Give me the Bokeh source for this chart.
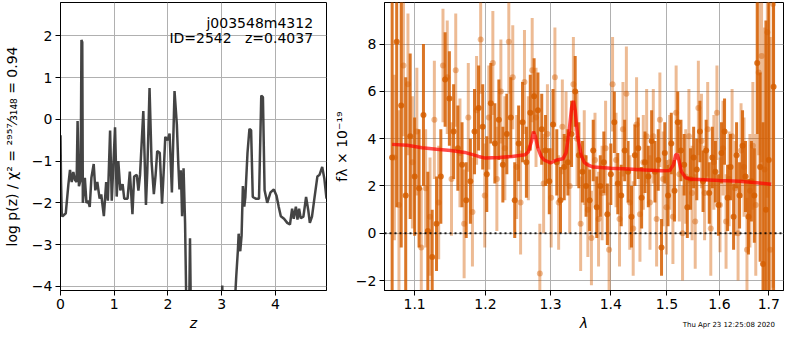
import numpy as np
from bokeh.plotting import figure
from bokeh.models import Range1d, FixedTicker, Label, Span, ColumnDataSource, CustomJSTickFormatter, Div
from bokeh.layouts import row, column
from bokeh.embed import file_html
from bokeh.resources import INLINE

# ---------------- data: left panel, log p(z) ----------------
z_grid = [0.0, 0.01, 0.024, 0.037, 0.098, 0.147, 0.177, 0.208, 0.239, 0.269,
          0.30, 0.318, 0.343, 0.375, 0.39, 0.405, 0.416, 0.453, 0.483, 0.514,
          0.544, 0.575, 0.618, 0.648, 0.685, 0.728, 0.758, 0.807, 0.85, 0.881,
          0.923, 0.954, 1.015, 1.046, 1.076, 1.113, 1.156, 1.186, 1.248, 1.29,
          1.339, 1.37, 1.419, 1.45, 1.48, 1.541, 1.59, 1.615, 1.657, 1.694,
          1.737, 1.77, 1.80, 1.847, 1.89, 1.92, 1.95, 1.994, 2.03, 2.073,
          2.122, 2.165, 2.19, 2.214, 2.239, 2.263, 2.29, 2.318, 2.36, 2.395,
          2.41, 2.425, 2.44, 2.6, 2.8, 2.99, 3.01, 3.03, 3.15, 3.24,
          3.27, 3.30, 3.315, 3.345, 3.37, 3.394, 3.42, 3.44, 3.48, 3.516,
          3.547, 3.578, 3.633, 3.694, 3.736, 3.767, 3.798, 3.847, 3.908, 3.97,
          4.02, 4.06, 4.10, 4.16, 4.22, 4.27, 4.31, 4.34, 4.38, 4.41,
          4.44, 4.47, 4.52, 4.57, 4.61, 4.64, 4.68, 4.72, 4.78, 4.82,
          4.87, 4.91, 4.95]
log_pz = [-0.38, -1.5, -2.3, -2.32, -2.25, -1.56, -1.21, -1.5, -1.26, -1.45,
          -1.5, -0.04, -1.6, -1.45, 1.9, 1.85, -2.0, -1.4, -2.0, -1.95,
          -2.1, -1.4, -1.07, -1.7, -1.5, -1.9, -1.8, -2.32, -1.5, -1.95,
          -0.27, -1.95, -0.19, -1.85, -1.0, -1.7, -1.55, -1.9, -1.9, -1.25,
          -2.27, -1.37, -1.33, -1.71, -1.33, 0.2, -2.05, -1.26, 0.75, -1.0,
          -1.79, -1.33, -0.76, -0.8, -2.02, -1.26, -0.42, -0.5, -0.34, -1.75,
          0.68, -0.12, -1.0, -1.68, -1.22, -2.32, -1.17, -2.48, -6.0, -4.5,
          -2.85, -4.5, -6.5, -9.0, -8.5, -5.0, -3.98, -5.0, -7.0, -4.5,
          -3.77, -3.16, -2.74, -3.16, -2.78, -1.6, -2.09, -1.86, -0.8, -0.23,
          -0.26, -1.86, -1.9, -1.9, 0.57, 0.53, -1.7, -2.0, -1.75, -1.68,
          -1.83, -2.09, -2.32, -2.38, -2.48, -2.52, -2.14, -2.38, -2.09, -2.4,
          -2.14, -2.37, -2.33, -1.86, -2.17, -2.48, -2.33, -1.94, -1.37, -1.33,
          -1.14, -1.42, -1.9]

z_ticks = [0, 1, 2, 3, 4]
logp_ticks = [-4, -3, -2, -1, 0, 1, 2]
obj_name = "j003548m4312"
obj_info = "ID=2542\u00a0\u00a0\u00a0z=0.4037"
chi2_label = "log p(z) / \u03c7\u00b2 = \u00b2\u2079\u2075\u2077\u2044\u2083\u2081\u2084\u2088 = 0.94"

# ---------------- data: right panel, spectrum ----------------
dark_wave = [1.070, 1.076, 1.082, 1.088, 1.094, 1.100, 1.106, 1.112, 1.118, 1.124,
             1.130, 1.136, 1.142, 1.148, 1.154, 1.160, 1.166, 1.172, 1.178, 1.184,
             1.190, 1.196, 1.202, 1.208, 1.214, 1.220, 1.226, 1.232, 1.238, 1.244,
             1.250, 1.256, 1.262, 1.268, 1.274, 1.280, 1.286, 1.292, 1.298, 1.304,
             1.310, 1.316, 1.322, 1.328, 1.334, 1.340, 1.346, 1.352, 1.358, 1.364,
             1.370, 1.376, 1.382, 1.388, 1.394, 1.400, 1.406, 1.412, 1.418, 1.424,
             1.430, 1.436, 1.442, 1.448, 1.454, 1.460, 1.466, 1.472, 1.478, 1.484,
             1.490, 1.496, 1.502, 1.508, 1.514, 1.520, 1.526, 1.532, 1.538, 1.544,
             1.550, 1.556, 1.562, 1.568, 1.574, 1.580, 1.586, 1.592, 1.598, 1.604,
             1.610, 1.616, 1.622, 1.628, 1.634, 1.640, 1.646, 1.652, 1.658, 1.664,
             1.670, 1.676, 1.682, 1.688, 1.694, 1.700, 1.710]
dark_flux = [3.2, 8.1, 5.4, 1.6, 4.1, 2.4, 1.9, 5.0, 0.1, -1.0,
             0.4, 2.4, 6.5, 5.7, 4.3, 3.6, 2.9, 1.4, 2.2, 4.3,
             5.3, 4.5, 2.5, 5.5, 3.8, 4.8, 2.9, 4.2, 4.9, 1.4,
             3.8, 4.7, 3.0, 5.1, 5.8, 5.2, 4.4, 3.5, 2.2, 4.6,
             3.0, 1.4, 2.8, 3.0, 4.2, 6.0, 3.3, 2.6, 2.0, 1.4,
             3.5, 1.1, 2.0, 3.0, 0.8, 2.5, 4.7, 2.1, 1.6, 3.5,
             2.6, 0.7, 3.3, 3.6, 1.5, 3.0, 2.4, 3.9, 2.6, 3.1,
             -0.6, 3.4, 1.6, 3.8, 1.8, 4.7, 3.5, 2.9, 1.1, 2.3,
             3.2, 2.7, 4.3, 2.2, 3.5, 1.7, 3.2, 2.6, 1.2, 3.4,
             4.3, 1.5, 2.8, 0.7, 3.3, 1.6, 3.7, 2.4, 0.7, 2.2,
             1.6, 7.2, 2.8, -1.3, 1.0, 3.1, 6.2]
dark_err = [7.0, 7.0, 6.0, 5.0, 3.5, 2.5, 2.5, 3.0, 2.5, 2.0,
            2.0, 2.0, 2.0, 2.0, 2.0, 1.8, 1.8, 1.6, 1.8, 1.8,
            1.8, 1.8, 1.6, 1.7, 1.7, 1.7, 1.6, 1.7, 1.7, 1.6,
            1.6, 1.7, 1.5, 1.6, 1.6, 1.6, 1.5, 1.5, 1.4, 1.5,
            1.4, 1.4, 1.4, 1.4, 1.4, 1.5, 1.4, 1.3, 1.3, 1.3,
            1.3, 1.3, 1.3, 1.3, 1.3, 1.3, 1.3, 1.3, 1.3, 1.3,
            1.3, 1.3, 1.3, 1.3, 1.3, 1.3, 1.3, 1.3, 1.3, 1.3,
            1.2, 1.3, 1.3, 1.3, 1.3, 1.3, 1.3, 1.3, 1.3, 1.3,
            1.3, 1.3, 1.3, 1.3, 1.3, 1.3, 1.3, 1.3, 1.3, 1.3,
            1.4, 1.4, 1.4, 1.4, 1.4, 1.4, 1.5, 1.5, 1.6, 1.7,
            2.0, 3.0, 4.0, 6.0, 8.0, 10.0, 12.0]

light_wave = [1.073, 1.079, 1.085, 1.091, 1.097, 1.103, 1.109, 1.115, 1.121, 1.127,
              1.133, 1.139, 1.145, 1.151, 1.157, 1.163, 1.169, 1.175, 1.181, 1.187,
              1.193, 1.199, 1.205, 1.211, 1.217, 1.223, 1.229, 1.235, 1.241, 1.247,
              1.253, 1.259, 1.265, 1.271, 1.277, 1.283, 1.289, 1.295, 1.301, 1.307,
              1.313, 1.319, 1.325, 1.331, 1.337, 1.343, 1.349, 1.355, 1.361, 1.367,
              1.373, 1.379, 1.385, 1.391, 1.397, 1.403, 1.409, 1.415, 1.421, 1.427,
              1.433, 1.439, 1.445, 1.451, 1.457, 1.463, 1.469, 1.475, 1.481, 1.487,
              1.493, 1.499, 1.505, 1.511, 1.517, 1.523, 1.529, 1.535, 1.541, 1.547,
              1.553, 1.559, 1.565, 1.571, 1.577, 1.583, 1.589, 1.595, 1.601, 1.607,
              1.613, 1.619, 1.625, 1.631, 1.637, 1.643, 1.649, 1.655, 1.661, 1.667,
              1.673, 1.679, 1.685, 1.691, 1.697, 1.703, 1.709]
light_flux = [3.2, 1.2, 7.1, 6.3, 3.0, 4.3, -0.6, 1.9, 0.7, 4.8,
              1.3, 7.1, 6.6, 2.3, 6.9, 3.4, 0.4, 4.9, 0.9, 5.2,
              8.2, 1.6, 4.9, 7.2, 2.3, 6.0, 3.6, 8.1, 6.6, 2.8,
              1.3, 6.4, 3.6, 6.9, 4.9, -1.7, 2.1, 4.2, 1.5, 6.6,
              1.3, 4.5, 4.0, 2.0, 6.3, 4.0, 0.4, 3.2, 1.0, -0.2,
              3.1, 0.6, 1.7, 3.6, -0.7, 6.3, 3.1, 0.6, 4.4, 5.9,
              1.3, 0.2, 4.6, 0.8, 3.0, 4.1, 1.3, 4.1, 0.6, 4.8,
              2.3, 1.1, 3.0, 0.7, 5.1, 2.5, 0.0, 2.4, 4.1, 1.7,
              0.5, 5.3, 3.9, 1.7, 4.4, 0.2, 3.0, 5.1, 1.2, 3.6,
              0.5, 2.3, 4.1, 1.9, 0.0, 3.5, 2.8, -0.7, 1.8, 3.7,
              1.2, 6.8, 7.5, 2.7, 8.5, -0.7, 9.7]
light_err = [3.5, 4.0, 3.0, 3.0, 2.8, 2.7, 2.5, 2.5, 2.5, 2.5,
             2.4, 2.4, 2.4, 2.4, 2.4, 2.3, 2.3, 2.3, 2.3, 2.3,
             2.3, 2.2, 2.2, 2.2, 2.2, 2.2, 2.2, 2.2, 2.2, 2.2,
             2.2, 2.2, 2.2, 2.2, 2.1, 2.1, 2.1, 2.1, 2.1, 2.1,
             2.0, 2.0, 2.0, 2.0, 2.0, 2.0, 2.0, 2.0, 2.0, 2.0,
             2.0, 2.0, 2.0, 2.0, 2.0, 2.0, 2.0, 2.0, 2.0, 2.0,
             2.0, 2.0, 2.0, 2.0, 2.0, 2.0, 2.0, 2.0, 2.0, 2.0,
             2.0, 2.0, 2.0, 2.0, 2.0, 2.0, 2.0, 2.0, 2.0, 2.0,
             2.0, 2.0, 2.0, 2.0, 2.0, 2.0, 2.0, 2.0, 2.0, 2.0,
             2.0, 2.0, 2.0, 2.0, 2.0, 2.0, 2.1, 2.2, 2.4, 2.7,
             3.0, 3.5, 4.5, 6.0, 7.0, 9.0, 12.0]

model_wave = [1.07, 1.09, 1.11, 1.13, 1.15, 1.17, 1.19, 1.20, 1.22, 1.24,
              1.26, 1.265, 1.27, 1.273, 1.276, 1.28, 1.285, 1.29, 1.30, 1.31,
              1.32, 1.325, 1.33, 1.334, 1.337, 1.340, 1.344, 1.35, 1.355, 1.36,
              1.37, 1.40, 1.43, 1.46, 1.49, 1.505, 1.512, 1.516, 1.519, 1.522,
              1.527, 1.535, 1.545, 1.56, 1.60, 1.64, 1.67, 1.705]
model_flux = [3.76, 3.72, 3.62, 3.55, 3.5, 3.42, 3.25, 3.18, 3.2, 3.25,
              3.32, 3.45, 3.9, 4.3, 4.1, 3.6, 3.25, 3.1, 2.98, 3.1,
              3.15, 3.4, 4.3, 5.3, 5.6, 5.2, 4.1, 3.3, 3.0, 2.9,
              2.8, 2.75, 2.72, 2.68, 2.64, 2.65, 2.9, 3.3, 3.35, 3.1,
              2.6, 2.35, 2.28, 2.27, 2.23, 2.2, 2.15, 2.07]
zero_level = 0.0

lam_ticks = [1.1, 1.2, 1.3, 1.4, 1.5, 1.6, 1.7]
flux_ticks = [-2, 0, 2, 4, 6, 8]
flux_label = "f\u03bb \u00d7 10\u207b\u00b9\u2079"
timestamp = "Thu Apr 23 12:25:08 2020"

FONT = "DejaVu Sans"
SPEC_COLOR = "#d55e00"


def int_fmt():
    return CustomJSTickFormatter(code="return tick.toFixed(0).replace('-', '\u2212');")


def style(p):
    p.outline_line_color = "black"
    p.outline_line_alpha = 1
    p.outline_line_width = 1
    p.background_fill_color = "white"
    p.border_fill_color = "white"
    for ax in p.axis:
        ax.axis_line_color = "black"
        ax.major_tick_line_color = "black"
        ax.major_tick_out = 5
        ax.major_tick_in = 0
        ax.minor_tick_line_color = None
        ax.major_label_text_font = FONT
        ax.major_label_text_font_size = "14px"
        ax.major_label_text_color = "black"
        ax.axis_label_text_font = FONT
        ax.axis_label_text_font_size = "14px"
        ax.axis_label_text_color = "black"
        ax.major_label_standoff = 3
        ax.axis_label_standoff = 3
    p.grid.grid_line_color = "#b0b0b0"
    p.grid.grid_line_width = 1


# ---------------- left figure ----------------
p1 = figure(width=328, height=334, x_range=Range1d(0, 4.95), y_range=Range1d(-4.1, 2.8),
            output_backend="svg", toolbar_location=None,
            min_border_left=60, min_border_right=2, min_border_top=2, min_border_bottom=44)
style(p1)
p1.xaxis.ticker = FixedTicker(ticks=z_ticks)
p1.yaxis.ticker = FixedTicker(ticks=logp_ticks)
p1.xaxis.formatter = int_fmt()
p1.yaxis.formatter = int_fmt()
p1.xaxis.axis_label = "z"
p1.xaxis.axis_label_text_font_style = "italic"
p1.yaxis.axis_label = chi2_label
p1.yaxis.axis_label_text_font_style = "normal"
p1.yaxis.axis_label_standoff = 9

p1.line(z_grid, log_pz, line_color="#3a3a3a", line_width=2.5, line_alpha=0.95)

p1.add_layout(Label(x=4.70, y=2.50, text=obj_name, text_align="right", text_baseline="top",
                    text_font=FONT, text_font_size="14px", text_color="black"))
p1.add_layout(Label(x=4.70, y=2.15, text=obj_info, text_align="right", text_baseline="top",
                    text_font=FONT, text_font_size="14px", text_color="black"))

# ---------------- right figure ----------------
p2 = figure(width=456, height=334, x_axis_type="log",
            x_range=Range1d(1.06, 1.731), y_range=Range1d(-2.42, 9.76),
            output_backend="svg", toolbar_location=None,
            min_border_left=56, min_border_right=1, min_border_top=2, min_border_bottom=44)
style(p2)
p2.xaxis.ticker = FixedTicker(ticks=lam_ticks)
p2.xaxis.formatter = CustomJSTickFormatter(code="return tick.toFixed(1);")
p2.yaxis.ticker = FixedTicker(ticks=flux_ticks)
p2.yaxis.formatter = int_fmt()
p2.xaxis.axis_label = "\u03bb"
p2.xaxis.axis_label_text_font_style = "italic"
p2.yaxis.axis_label = flux_label
p2.yaxis.axis_label_text_font_style = "normal"
p2.yaxis.axis_label_standoff = 3

lw = np.array(light_wave)
lf = np.array(light_flux)
le = np.array(light_err)
src_l = ColumnDataSource(dict(w=lw, f=lf, lo=lf - le, hi=lf + le))
dw = np.array(dark_wave)
df = np.array(dark_flux)
de = np.array(dark_err)
src_d = ColumnDataSource(dict(w=dw, f=df, lo=df - de, hi=df + de))

p2.segment(x0="w", y0="lo", x1="w", y1="hi", source=src_l, line_color=SPEC_COLOR,
           line_alpha=0.42, line_width=3)
p2.scatter(x="w", y="f", source=src_l, size=6, fill_color=SPEC_COLOR, fill_alpha=0.42,
           line_color=None)
p2.segment(x0="w", y0="lo", x1="w", y1="hi", source=src_d, line_color=SPEC_COLOR,
           line_alpha=0.85, line_width=3)
p2.scatter(x="w", y="f", source=src_d, size=6, fill_color=SPEC_COLOR, fill_alpha=0.85,
           line_color=None)

p2.add_layout(Span(location=zero_level, dimension="width", line_color="black",
                   line_dash="2 3", line_width=2, line_alpha=0.85))
p2.line(model_wave, model_flux, line_color="red", line_width=3.5, line_alpha=0.7)

stamp = Div(text=timestamp, width=120, height=10, margin=(-14, 0, 0, 655),
            styles={"font-family": "DejaVu Sans", "font-size": "7px", "color": "black",
                    "text-align": "right", "line-height": "10px",
                    "position": "relative", "z-index": "5"})

layout = column(row(p1, p2), stamp)
open("out.html", "w").write(file_html(layout, INLINE))
